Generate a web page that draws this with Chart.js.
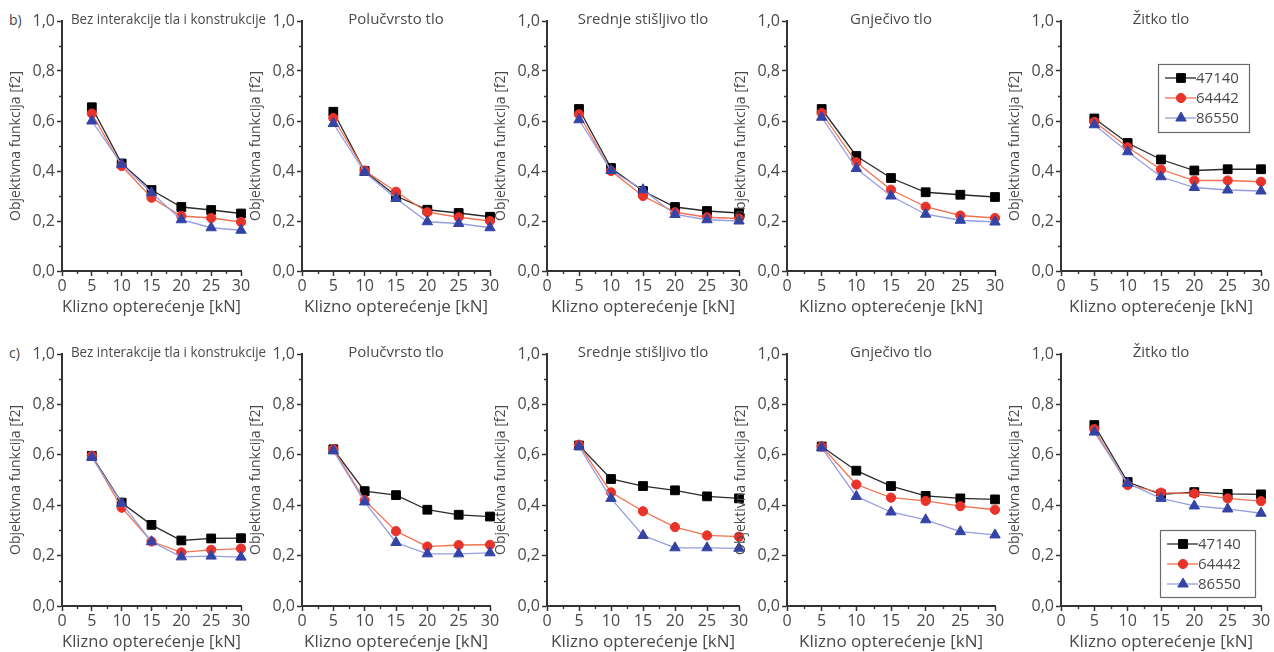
<!DOCTYPE html>
<html>
<head>
<meta charset="utf-8">
<script src="https://cdn.jsdelivr.net/npm/chart.js@4.4.1/dist/chart.umd.min.js"></script>
<style>
  html, body { margin: 0; padding: 0; background: #fff; }
  body { position: relative; width: 1274px; height: 652px; overflow: hidden; }
  canvas { position: absolute; }
  .tag { position: absolute; font: 14px "Open Sans", sans-serif; color: #444; line-height: 18px; }
</style>
</head>
<body>
<div class="tag" style="left:9px; top:11px;">b)</div>
<div class="tag" style="left:9px; top:344px;">c)</div>

<script>
// Sliding load on the x axis, objective function f2 on the y axis
const loads = [5, 10, 15, 20, 25, 30];
const xTickValues = [0, 5, 10, 15, 20, 25, 30];
const yTickValues = [0, 0.2, 0.4, 0.6, 0.8, 1.0];
const xMinorValues = [2.5, 7.5, 12.5, 17.5, 22.5, 27.5];
const yMinorValues = [0.1, 0.3, 0.5, 0.7, 0.9];
const seriesNames = ['47140', '64442', '86550'];
const soilNames = ['Bez interakcije tla i konstrukcije', 'Polučvrsto tlo', 'Srednje stišljivo tlo', 'Gnječivo tlo', 'Žitko tlo'];
const xAxisTitle = 'Klizno opterećenje [kN]';
const yAxisTitle = 'Objektivna funkcija [f2]';

// Row b
const b1_47140 = [0.655, 0.430, 0.324, 0.256, 0.244, 0.230];
const b1_64442 = [0.630, 0.420, 0.293, 0.220, 0.212, 0.196];
const b1_86550 = [0.600, 0.427, 0.313, 0.205, 0.173, 0.163];

const b2_47140 = [0.637, 0.400, 0.300, 0.245, 0.232, 0.217];
const b2_64442 = [0.612, 0.402, 0.317, 0.235, 0.215, 0.200];
const b2_86550 = [0.590, 0.395, 0.290, 0.197, 0.190, 0.173];

const b3_47140 = [0.648, 0.412, 0.320, 0.256, 0.240, 0.232];
const b3_64442 = [0.627, 0.400, 0.300, 0.235, 0.215, 0.210];
const b3_86550 = [0.605, 0.402, 0.325, 0.226, 0.205, 0.200];

const b4_47140 = [0.648, 0.460, 0.372, 0.315, 0.305, 0.296];
const b4_64442 = [0.632, 0.435, 0.325, 0.257, 0.222, 0.212];
const b4_86550 = [0.615, 0.410, 0.300, 0.227, 0.203, 0.196];

const b5_47140 = [0.610, 0.512, 0.446, 0.402, 0.407, 0.407];
const b5_64442 = [0.597, 0.495, 0.406, 0.362, 0.362, 0.357];
const b5_86550 = [0.585, 0.477, 0.377, 0.334, 0.324, 0.320];

// Row c
const c1_47140 = [0.596, 0.410, 0.322, 0.260, 0.268, 0.269];
const c1_64442 = [0.596, 0.390, 0.256, 0.213, 0.223, 0.228];
const c1_86550 = [0.590, 0.408, 0.255, 0.195, 0.198, 0.194];

const c2_47140 = [0.622, 0.456, 0.440, 0.382, 0.362, 0.355];
const c2_64442 = [0.622, 0.420, 0.297, 0.236, 0.242, 0.243];
const c2_86550 = [0.616, 0.413, 0.252, 0.207, 0.207, 0.211];

const c3_47140 = [0.637, 0.504, 0.476, 0.459, 0.435, 0.427];
const c3_64442 = [0.640, 0.451, 0.376, 0.313, 0.280, 0.275];
const c3_86550 = [0.633, 0.427, 0.280, 0.231, 0.231, 0.229];

const c4_47140 = [0.633, 0.537, 0.476, 0.437, 0.427, 0.423];
const c4_64442 = [0.633, 0.482, 0.430, 0.417, 0.396, 0.382];
const c4_86550 = [0.628, 0.435, 0.373, 0.342, 0.295, 0.282];

const c5_47140 = [0.718, 0.492, 0.443, 0.452, 0.445, 0.443];
const c5_64442 = [0.702, 0.480, 0.450, 0.446, 0.427, 0.416];
const c5_86550 = [0.690, 0.487, 0.427, 0.397, 0.385, 0.368];

const rows = [
  [[b1_47140, b1_64442, b1_86550], [b2_47140, b2_64442, b2_86550], [b3_47140, b3_64442, b3_86550],
   [b4_47140, b4_64442, b4_86550], [b5_47140, b5_64442, b5_86550]],
  [[c1_47140, c1_64442, c1_86550], [c2_47140, c2_64442, c2_86550], [c3_47140, c3_64442, c3_86550],
   [c4_47140, c4_64442, c4_86550], [c5_47140, c5_64442, c5_86550]]
];

// ---- layout & style ----
const FONT = '"Open Sans", sans-serif';
const AXIS = '#333';
const TEXT = '#4a4a4a';
const plotLefts  = [62, 302, 547, 787, 1061];
const plotRights = [241, 490, 739, 995, 1261];
const rowLayout = [
  { top: 0,   plotTop: 21,  plotBottom: 271 },
  { top: 320, plotTop: 354, plotBottom: 606 }
];
const Y_AXIS_W = 58;
const X_AXIS_H = 54;
const RIGHT_PAD = 40;

const seriesStyle = [
  { line: '#2a2a2a', fill: '#000000', shape: 'rect',     radius: 6.2 },
  { line: '#f2714e', fill: '#e8332a', shape: 'circle',   radius: 4.6 },
  { line: '#979de0', fill: '#3444a6', shape: 'triangle', radius: 6.0 }
];

// legend box placement relative to the plot area (row, column)
const keyPlacement = {
  '0-4': { dx: 97, dy: 43, w: 91, h: 68 },
  '1-4': { dx: 99, dy: 176, w: 95, h: 67 }
};

// minor tick marks between the labelled ticks
const minorTicks = {
  id: 'minorTicks',
  afterDraw(chart) {
    const { ctx, chartArea, scales } = chart;
    ctx.save();
    ctx.strokeStyle = AXIS;
    ctx.lineWidth = 1.4;
    ctx.beginPath();
    xMinorValues.forEach(v => {
      const px = Math.round(scales.x.getPixelForValue(v)) + 0.5;
      ctx.moveTo(px, chartArea.bottom);
      ctx.lineTo(px, chartArea.bottom + 3);
    });
    yMinorValues.forEach(v => {
      const py = Math.round(scales.y.getPixelForValue(v)) + 0.5;
      ctx.moveTo(chartArea.left, py);
      ctx.lineTo(chartArea.left - 3, py);
    });
    ctx.stroke();
    ctx.restore();
  }
};

// soil-type caption at the top of each plot
const panelCaption = {
  id: 'panelCaption',
  afterDraw(chart, args, opts) {
    if (!opts.text) return;
    const { ctx, chartArea } = chart;
    ctx.save();
    ctx.font = '15px ' + FONT;
    ctx.fillStyle = TEXT;
    ctx.textBaseline = 'middle';
    const y = chartArea.top - 1;
    if (opts.align === 'start') {
      ctx.textAlign = 'left';
      ctx.fillText(opts.text, chartArea.left + opts.offset, y, opts.maxWidth);
    } else {
      ctx.textAlign = 'center';
      ctx.fillText(opts.text, (chartArea.left + chartArea.right) / 2, y);
    }
    ctx.restore();
  }
};

// boxed series key drawn inside the plot
const seriesKey = {
  id: 'seriesKey',
  afterDraw(chart, args, opts) {
    if (!opts.place) return;
    const { ctx, chartArea } = chart;
    const p = opts.place;
    const left = chartArea.left + p.dx;
    const top = chartArea.top + p.dy;
    ctx.save();
    ctx.fillStyle = '#fff';
    ctx.fillRect(left, top, p.w, p.h);
    ctx.strokeStyle = '#6a6a6a';
    ctx.lineWidth = 1.2;
    ctx.strokeRect(left + 0.5, top + 0.5, p.w, p.h);
    chart.data.datasets.forEach((ds, k) => {
      const y = top + 14 + k * 20;
      ctx.strokeStyle = ds.borderColor;
      ctx.lineWidth = 1.3;
      ctx.beginPath();
      ctx.moveTo(left + 7, y);
      ctx.lineTo(left + 38, y);
      ctx.stroke();
      ctx.fillStyle = ds.pointBackgroundColor;
      ctx.strokeStyle = ds.pointBorderColor;
      ctx.lineWidth = 1;
      Chart.helpers.drawPoint(ctx, { pointStyle: ds.pointStyle, radius: ds.pointRadius, rotation: 0, borderWidth: 1 }, left + 23, y);
      ctx.fillStyle = TEXT;
      ctx.font = '15px ' + FONT;
      ctx.textAlign = 'left';
      ctx.textBaseline = 'middle';
      ctx.fillText(ds.label, left + 38, y + 0.5);
    });
    ctx.restore();
  }
};

function fmtComma(v) {
  return Number(v).toFixed(1).replace('.', ',');
}

rows.forEach((rowSeries, r) => {
  const rl = rowLayout[r];
  rowSeries.forEach((series, c) => {
    const plotW = plotRights[c] - plotLefts[c];
    const canvas = document.createElement('canvas');
    const cw = Y_AXIS_W + plotW + RIGHT_PAD;
    const ch = rl.plotBottom - rl.top + X_AXIS_H;
    canvas.width = cw;
    canvas.height = ch;
    canvas.style.left = (plotLefts[c] - Y_AXIS_W) + 'px';
    canvas.style.top = rl.top + 'px';
    canvas.style.width = cw + 'px';
    canvas.style.height = ch + 'px';
    document.body.appendChild(canvas);

    const datasets = series.map((vals, k) => {
      const st = seriesStyle[k];
      return {
        label: seriesNames[k],
        data: loads.map((x, i) => ({ x: x, y: vals[i] })),
        borderColor: st.line,
        borderWidth: 1.3,
        pointStyle: st.shape,
        pointRadius: st.radius,
        pointBackgroundColor: st.fill,
        pointBorderColor: st.fill,
        pointBorderWidth: 1,
        tension: 0,
        clip: false,
        order: 3 - k
      };
    });

    new Chart(canvas, {
      type: 'line',
      data: { datasets },
      options: {
        responsive: false,
        animation: false,
        devicePixelRatio: 1,
        layout: { padding: { top: rl.plotTop - rl.top, right: RIGHT_PAD, left: 0, bottom: 0 } },
        plugins: {
          legend: { display: false },
          tooltip: { enabled: false },
          panelCaption: c === 0
            ? { text: soilNames[c], align: 'start', offset: 9, maxWidth: 195 }
            : { text: soilNames[c], align: 'center' },
          seriesKey: { place: keyPlacement[r + '-' + c] || null }
        },
        scales: {
          x: {
            type: 'linear', min: 0, max: 30,
            afterBuildTicks: s => { s.ticks = xTickValues.map(v => ({ value: v })); },
            afterFit: s => { s.height = X_AXIS_H; },
            ticks: { font: { family: FONT, size: 16 }, color: TEXT, padding: 1, maxRotation: 0, autoSkip: false, callback: v => String(v) },
            grid: { drawOnChartArea: false, drawTicks: true, tickLength: 5, tickColor: AXIS, tickWidth: 1.5 },
            border: { display: true, color: AXIS, width: 2 },
            title: { display: true, text: xAxisTitle, font: { family: FONT, size: 17 }, color: TEXT, padding: { top: 0, bottom: 7.8 } }
          },
          y: {
            type: 'linear', min: 0, max: 1,
            afterBuildTicks: s => { s.ticks = yTickValues.map(v => ({ value: v })); },
            afterFit: s => { s.width = Y_AXIS_W; },
            ticks: { font: { family: FONT, size: 16 }, color: TEXT, padding: 2, autoSkip: false, callback: v => fmtComma(v) },
            grid: { drawOnChartArea: false, drawTicks: true, tickLength: 5, tickColor: AXIS, tickWidth: 1.5 },
            border: { display: true, color: AXIS, width: 2 },
            title: { display: true, text: yAxisTitle, font: { family: FONT, size: 14 }, color: TEXT, padding: { top: 3.6, bottom: 0 } }
          }
        }
      },
      plugins: [minorTicks, panelCaption, seriesKey]
    });
  });
});
</script>
</body>
</html>
